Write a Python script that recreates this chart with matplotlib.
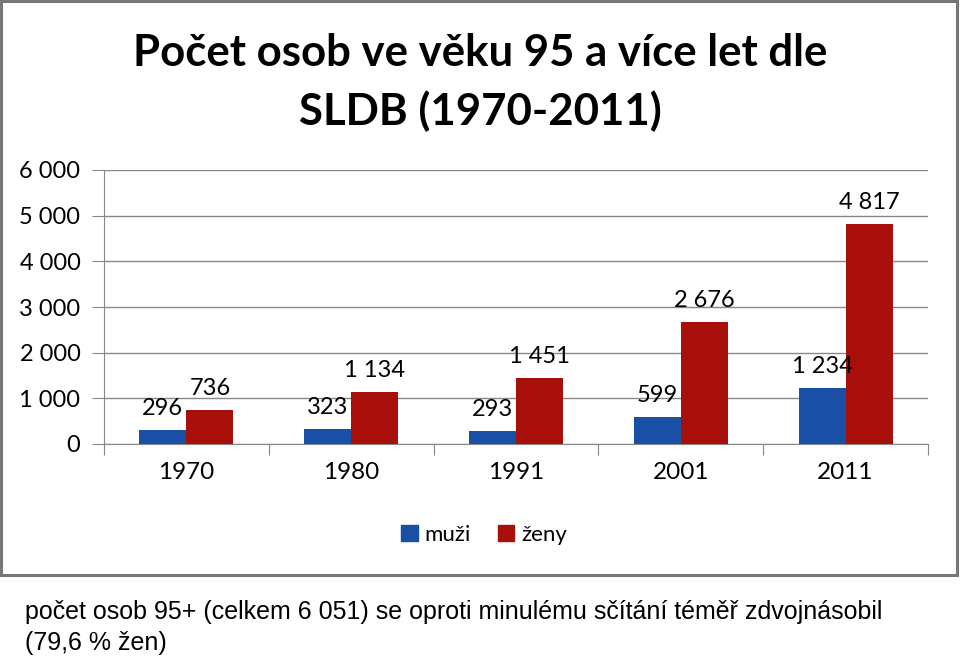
import matplotlib
matplotlib.use('Agg')
import matplotlib.pyplot as plt
from matplotlib.patches import Rectangle, Patch

# data
years = ['1970', '1980', '1991', '2001', '2011']
muzi = [296, 323, 293, 599, 1234]
zeny = [736, 1134, 1451, 2676, 4817]
yticks = [0, 1000, 2000, 3000, 4000, 5000, 6000]

blue = '#1A4FA6'
red = '#A80F0B'
font = ['Lato', 'DejaVu Sans']
capfont = ['Liberation Sans Narrow', 'Liberation Sans', 'DejaVu Sans']

def fmt(v):
    return f'{v:,}'.replace(',', ' ')

fig = plt.figure(figsize=(9.6, 6.6), dpi=100)

# outer chart box
fig.patches.append(Rectangle((0.001, 1 - 575 / 660), 0.996, 575 / 660 - 0.002,
                             transform=fig.transFigure, fill=False,
                             edgecolor='#777777', lw=2.2))

ax = fig.add_axes([104 / 960, 1 - 444 / 660, 824 / 960, 274 / 660])

w = 0.285
x = range(len(years))
ax.bar([i - w / 2 for i in x], muzi, w, color=blue, zorder=3)
ax.bar([i + w / 2 for i in x], zeny, w, color=red, zorder=3)

for i in x:
    ax.annotate(fmt(muzi[i]), (i - w / 2, muzi[i]), xytext=(0, 8),
                textcoords='offset points', ha='center', va='bottom',
                fontsize=17, family=font)
    ax.annotate(fmt(zeny[i]), (i + w / 2, zeny[i]), xytext=(0, 8),
                textcoords='offset points', ha='center', va='bottom',
                fontsize=17, family=font)

ax.set_xlim(-0.5, len(years) - 0.5)
ax.set_ylim(0, 6000)
ax.set_yticks(yticks)
ax.set_yticklabels([fmt(v) for v in yticks], family=font, fontsize=17)
ax.yaxis.grid(True, color='#888888', lw=1)
ax.set_axisbelow(True)

# category separators as ticks, labels in the middle
ax.set_xticks([i - 0.5 for i in range(len(years) + 1)])
ax.set_xticklabels([])
ax.set_xticks(list(x), minor=True)
ax.set_xticklabels(years, minor=True, family=font, fontsize=17.5)
ax.tick_params(axis='x', which='major', length=8, color='#888888', direction='out')
ax.tick_params(axis='x', which='minor', length=0, pad=13)
ax.tick_params(axis='y', length=9, color='#888888', pad=8)

for s in ['top', 'right']:
    ax.spines[s].set_visible(False)
ax.spines['left'].set_color('#888888')
ax.spines['bottom'].set_color('#888888')

fig.text(0.5, 1 - 53 / 660, 'Počet osob ve věku 95 a více let dle',
         ha='center', va='center', fontsize=31.5, fontweight='bold', family=font)
fig.text(0.5, 1 - 111 / 660, 'SLDB (1970-2011)',
         ha='center', va='center', fontsize=31.5, fontweight='bold', family=font)

handles = [Patch(color=blue, label='muži'), Patch(color=red, label='ženy')]
fig.legend(handles=handles, loc='center', bbox_to_anchor=(484 / 960, 1 - 535 / 660),
           ncol=2, frameon=False, handlelength=0.75, handleheight=0.75,
           handletextpad=0.3, columnspacing=1.2, prop={'family': font, 'size': 16})

fig.text(25 / 960, 1 - 612 / 660,
         'počet osob 95+ (celkem 6 051) se oproti minulému sčítání téměř zdvojnásobil',
         ha='left', va='center', fontsize=18, family=capfont)
fig.text(25 / 960, 1 - 643 / 660, '(79,6 % žen)',
         ha='left', va='center', fontsize=18, family=capfont)

fig.savefig('out.png', dpi=100)
